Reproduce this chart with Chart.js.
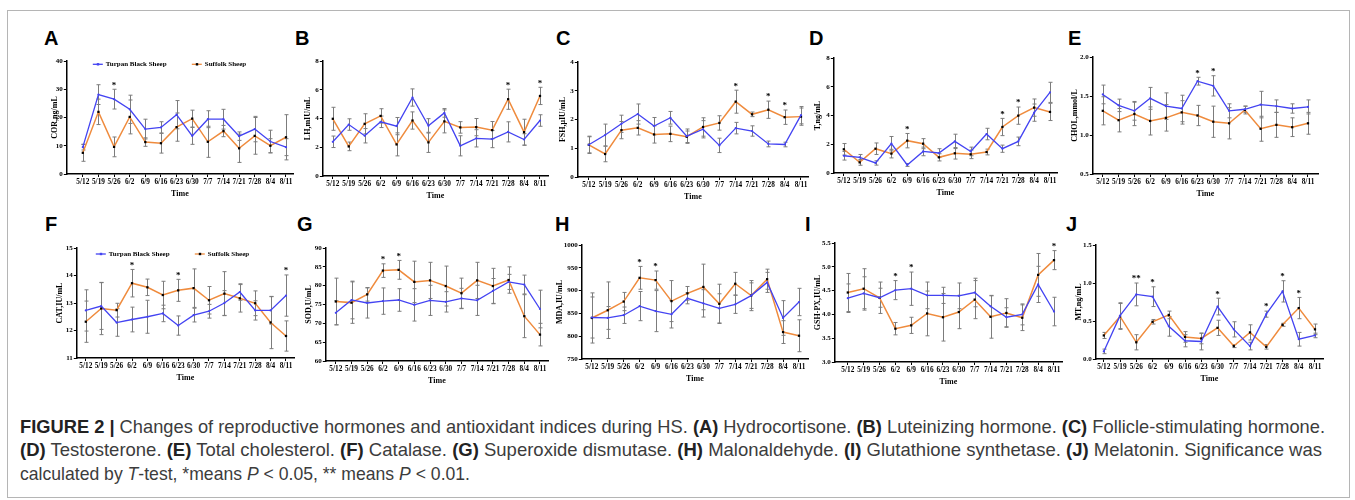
<!DOCTYPE html>
<html>
<head>
<meta charset="utf-8">
<script src="https://cdn.jsdelivr.net/npm/chart.js@4.4.1/dist/chart.umd.min.js"></script>
<style>
  body { margin: 0; background: #fff; width: 1355px; height: 500px; overflow: hidden; position: relative; }
  #frame { position: absolute; left: 7px; top: 10px; width: 1341px; height: 486px; border: 1px solid #b5b5b5; }
  canvas { position: absolute; }
  .letter { position: absolute; font: bold 20px "Liberation Sans", Arial, sans-serif; line-height: 20px; color: #000; }
  .cap { position: absolute; left: 20px; white-space: nowrap; font-family: "Liberation Sans Narrow", "Liberation Sans", Arial, sans-serif;
         font-size: 19px; line-height: 22px; color: #3c3c3c; transform-origin: 0 50%; }
  .cap b { color: #222; }
</style>
</head>
<body>
<div id="frame"></div>

<div class="cap" id="cap1" style="top:416px"><b>FIGURE 2 |</b> Changes of reproductive hormones and antioxidant indices during HS. <b>(A)</b> Hydrocortisone. <b>(B)</b> Luteinizing hormone. <b>(C)</b> Follicle-stimulating hormone.</div>
<div class="cap" id="cap2" style="top:439px"><b>(D)</b> Testosterone. <b>(E)</b> Total cholesterol. <b>(F)</b> Catalase. <b>(G)</b> Superoxide dismutase. <b>(H)</b> Malonaldehyde. <b>(I)</b> Glutathione synthetase. <b>(J)</b> Melatonin. Significance was</div>
<div class="cap" id="cap3" style="top:463px">calculated by <i>T</i>-test, *means <i>P</i> &lt; 0.05, ** means <i>P</i> &lt; 0.01.</div>

<script>
const categories = ['5/12', '5/19', '5/26', '6/2', '6/9', '6/16', '6/23', '6/30', '7/7', '7/14', '7/21', '7/28', '8/4', '8/11'];
const seriesNames = ['Turpan Black Sheep', 'Suffolk Sheep'];

// A - cortisol
const corTurpan = [9.5, 28.1, 26.5, 22.9, 15.9, 16.5, 21, 13.5, 19.4, 19.4, 13.4, 15.9, 11.5, 9.5];
const corTurpanSd = [1, 3.5, 3.5, 5, 3.5, 2, 5, 3, 3, 3.5, 1.5, 4.5, 4, 3];
const corSuffolk = [7.5, 22, 9.6, 20.2, 11.3, 10.9, 16.6, 19.6, 11.4, 15.2, 9.1, 13.5, 10, 13];
const corSuffolkSd = [3, 4.5, 3.5, 6, 1.5, 3.5, 5, 3, 5.5, 2, 5, 6.5, 2.5, 8];
const corSig = ['', '', '*', '', '', '', '', '', '', '', '', '', '', ''];

// B - LH
const lhTurpan = [2.38, 3.58, 2.8, 3.77, 3.47, 5.46, 3.49, 4.39, 2.1, 2.62, 2.57, 3.07, 2.54, 3.86];
const lhTurpanSd = [0.4, 0.4, 0.5, 0.4, 0.6, 0.6, 0.5, 0.3, 0.7, 0.6, 0.6, 0.7, 0.4, 0.4];
const lhSuffolk = [3.98, 2.06, 3.63, 4.18, 2.2, 3.86, 2.34, 3.8, 3.38, 3.4, 3.19, 5.34, 3.05, 5.57];
const lhSuffolkSd = [0.8, 0.3, 0.7, 0.5, 0.8, 0.6, 0.7, 0.8, 0.4, 0.6, 0.6, 0.7, 0.9, 0.6];
const lhSig = ['', '', '', '', '', '', '', '', '', '', '', '*', '', '*'];

// C - FSH
const fshTurpan = [1.12, 1.46, 1.85, 2.19, 1.77, 2.06, 1.42, 1.66, 1.1, 1.7, 1.6, 1.15, 1.13, 2.15];
const fshTurpanSd = [0.3, 0.38, 0.3, 0.35, 0.3, 0.22, 0.25, 0.3, 0.25, 0.2, 0.18, 0.1, 0.08, 0.3];
const fshSuffolk = [1.12, 0.8, 1.63, 1.71, 1.48, 1.5, 1.4, 1.74, 1.88, 2.62, 2.18, 2.34, 2.08, 2.1];
const fshSuffolkSd = [0.28, 0.27, 0.3, 0.25, 0.3, 0.27, 0.2, 0.32, 0.25, 0.4, 0.08, 0.3, 0.25, 0.3];
const fshSig = ['', '', '', '', '', '', '', '', '', '*', '', '*', '*', ''];

// D - testosterone
const tTurpan = [1.2, 1.09, 0.7, 2.04, 0.56, 1.5, 1.39, 2.2, 1.5, 2.71, 1.69, 2.2, 4.2, 5.61];
const tTurpanSd = [0.3, 0.2, 0.15, 0.5, 0.1, 0.3, 0.3, 0.5, 0.3, 0.4, 0.25, 0.3, 0.6, 0.7];
const tSuffolk = [1.65, 0.74, 1.69, 1.35, 2.25, 2.04, 1.09, 1.37, 1.3, 1.46, 3.2, 3.99, 4.55, 4.25];
const tSuffolkSd = [0.4, 0.2, 0.4, 0.3, 0.5, 0.35, 0.25, 0.4, 0.3, 0.2, 0.6, 0.6, 0.6, 0.6];
const tSig = ['', '', '', '', '*', '', '', '', '', '', '*', '*', '', ''];

// E - cholesterol
const cholTurpan = [1.52, 1.38, 1.31, 1.47, 1.37, 1.34, 1.69, 1.63, 1.31, 1.33, 1.39, 1.37, 1.34, 1.36];
const cholTurpanSd = [0.12, 0.08, 0.12, 0.14, 0.17, 0.17, 0.05, 0.13, 0.09, 0.04, 0.17, 0.08, 0.06, 0.09];
const cholSuffolk = [1.31, 1.19, 1.27, 1.18, 1.22, 1.29, 1.25, 1.17, 1.15, 1.32, 1.08, 1.13, 1.1, 1.15];
const cholSuffolkSd = [0.18, 0.15, 0.15, 0.18, 0.17, 0.15, 0.13, 0.2, 0.2, 0.05, 0.16, 0.16, 0.12, 0.14];
const cholSig = ['', '', '', '', '', '', '*', '*', '', '', '', '', '', ''];

// F - catalase
const catTurpan = [12.73, 12.89, 12.29, 12.4, 12.5, 12.62, 12.18, 12.56, 12.7, 13.0, 13.4, 12.73, 12.73, 13.27];
const catTurpanSd = [0.75, 0.85, 0.5, 0.45, 0.6, 0.3, 0.35, 0.25, 0.25, 0.45, 0.3, 0.35, 0.5, 0.75];
const catSuffolk = [12.32, 12.8, 12.74, 13.72, 13.57, 13.29, 13.46, 13.54, 13.1, 13.34, 13.17, 12.99, 12.29, 11.8];
const catSuffolkSd = [0.75, 0.95, 0.25, 0.5, 0.3, 0.5, 0.4, 0.7, 0.5, 0.8, 0.5, 0.45, 0.95, 0.55];
const catSig = ['', '', '', '*', '', '', '*', '', '', '', '', '', '', '*'];

// G - SOD
const sodTurpan = [72.8, 76.2, 75.4, 75.9, 76.2, 74.9, 76.1, 75.7, 76.6, 76.1, 78.6, 81.0, 80.3, 73.8];
const sodTurpanSd = [3.2, 5, 4, 3.5, 3, 4.3, 4, 2.7, 2.7, 4, 3.3, 2, 2.5, 5];
const sodSuffolk = [75.8, 75.5, 77.7, 84.0, 84.2, 81.0, 81.4, 79.9, 78.0, 81.4, 79.9, 81.5, 71.9, 67.0];
const sodSuffolkSd = [6.2, 5.5, 1.8, 1.8, 2.5, 5.5, 4.8, 5.3, 4.0, 4.8, 4.7, 3.5, 5.7, 3];
const sodSig = ['', '', '', '*', '*', '', '', '', '', '', '', '', '', ''];

// H - MDA
const mdaTurpan = [841, 840, 846, 866, 855, 848, 883, 872, 861, 870, 889, 918, 840, 875];
const mdaTurpanSd = [45, 25, 18, 32, 45, 30, 12, 30, 32, 20, 28, 22, 38, 30];
const mdaSuffolk = [840, 857, 876, 928, 923, 877, 894, 908, 871, 915, 889, 925, 809, 801];
const mdaSuffolkSd = [55, 62, 20, 25, 20, 45, 15, 50, 43, 25, 33, 22, 25, 35];
const mdaSig = ['', '', '', '*', '*', '', '', '', '', '', '', '', '', ''];

// I - GSH-PX
const gshTurpan = [4.34, 4.44, 4.35, 4.51, 4.54, 4.4, 4.4, 4.39, 4.46, 4.17, 3.94, 4.0, 4.63, 4.06];
const gshTurpanSd = [0.3, 0.35, 0.2, 0.2, 0.35, 0.28, 0.17, 0.27, 0.3, 0.22, 0.2, 0.22, 0.38, 0.3];
const gshSuffolk = [4.46, 4.54, 4.35, 3.7, 3.77, 4.02, 3.94, 4.05, 4.31, 3.95, 4.03, 3.93, 4.83, 5.14];
const gshSuffolkSd = [0.4, 0.42, 0.33, 0.13, 0.17, 0.47, 0.5, 0.35, 0.4, 0.45, 0.3, 0.27, 0.45, 0.2];
const gshSig = ['', '', '', '*', '*', '', '', '', '', '', '', '', '', '*'];

// J - melatonin
const mtTurpan = [0.1, 0.57, 0.85, 0.82, 0.43, 0.24, 0.23, 0.69, 0.39, 0.17, 0.59, 0.89, 0.26, 0.31];
const mtTurpanSd = [0.03, 0.17, 0.15, 0.13, 0.13, 0.08, 0.11, 0.11, 0.1, 0.05, 0.04, 0.14, 0.09, 0.03];
const mtSuffolk = [0.31, 0.56, 0.22, 0.49, 0.58, 0.29, 0.27, 0.41, 0.17, 0.35, 0.16, 0.45, 0.67, 0.39];
const mtSuffolkSd = [0.04, 0.17, 0.1, 0.03, 0.05, 0.07, 0.07, 0.1, 0.02, 0.1, 0.03, 0.02, 0.14, 0.07];
const mtSig = ['', '', '**', '*', '', '', '', '*', '', '', '*', '*', '*', ''];

const BLUE = '#4343f2';
const ORANGE = '#ef8b3d';
const SERIF = '"Liberation Serif", "Times New Roman", serif';

// box: y-axis x, top px, bottom px, first point x, last point x, axis end x
const panels = [
  { letter: 'A', lx: 44, ly: 28, title: 'COR,ng/mL', min: 0, max: 40, step: 10, dec: 0, tOff: 12,
    t: corTurpan, tSd: corTurpanSd, s: corSuffolk, sSd: corSuffolkSd, sig: corSig,
    box: [67, 61, 174, 83, 286, 293], legend: { x: 26, y: 3.3, second: 125 } },
  { letter: 'B', lx: 295, ly: 28, title: 'LH,mIU/mL', min: 0, max: 8, step: 2, dec: 0, tOff: 15,
    t: lhTurpan, tSd: lhTurpanSd, s: lhSuffolk, sSd: lhSuffolkSd, sig: lhSig,
    box: [323, 61, 176, 333, 540, 548] },
  { letter: 'C', lx: 556, ly: 28, title: 'FSH,μIU/mL', min: 0, max: 4, step: 1, dec: 0, tOff: 15,
    t: fshTurpan, tSd: fshTurpanSd, s: fshSuffolk, sSd: fshSuffolkSd, sig: fshSig,
    box: [578, 62, 177, 589, 801, 808] },
  { letter: 'D', lx: 809, ly: 28, title: 'T,ng/mL', min: 0, max: 8, step: 2, dec: 0, tOff: 16,
    t: tTurpan, tSd: tTurpanSd, s: tSuffolk, sSd: tSuffolkSd, sig: tSig,
    box: [834, 58, 173, 844, 1050, 1057] },
  { letter: 'E', lx: 1068, ly: 28, title: 'CHOL,mmol/L', min: 0.5, max: 2.0, step: 0.5, dec: 1, tOff: 18,
    t: cholTurpan, tSd: cholTurpanSd, s: cholSuffolk, sSd: cholSuffolkSd, sig: cholSig,
    box: [1093, 57, 174, 1103, 1308, 1318] },
  { letter: 'F', lx: 45, ly: 214, title: 'CAT,IU/mL', min: 11, max: 15, step: 1, dec: 0, tOff: 17,
    t: catTurpan, tSd: catTurpanSd, s: catSuffolk, sSd: catSuffolkSd, sig: catSig,
    box: [77, 248, 358, 86, 286, 294], legend: { x: 19, y: 6, second: 118 } },
  { letter: 'G', lx: 297, ly: 214, title: 'SOD,U/mL', min: 60, max: 90, step: 5, dec: 0, tOff: 17,
    t: sodTurpan, tSd: sodTurpanSd, s: sodSuffolk, sSd: sodSuffolkSd, sig: sodSig,
    box: [326, 248, 361, 336, 540, 548] },
  { letter: 'H', lx: 555, ly: 214, title: 'MDA,IU/mL', min: 750, max: 1000, step: 50, dec: 0, tOff: 22,
    t: mdaTurpan, tSd: mdaTurpanSd, s: mdaSuffolk, sSd: mdaSuffolkSd, sig: mdaSig,
    box: [582, 245, 359, 592, 799, 808] },
  { letter: 'I', lx: 805, ly: 214, title: 'GSH-PX,IU/mL', min: 3.0, max: 5.5, step: 0.5, dec: 1, tOff: 17,
    t: gshTurpan, tSd: gshTurpanSd, s: gshSuffolk, sSd: gshSuffolkSd, sig: gshSig,
    box: [835, 243, 362, 848, 1054, 1062] },
  { letter: 'J', lx: 1066, ly: 214, title: 'MT,ng/mL', min: 0, max: 1.5, step: 0.5, dec: 1, tOff: 17,
    t: mtTurpan, tSd: mtTurpanSd, s: mtSuffolk, sSd: mtSuffolkSd, sig: mtSig,
    box: [1096, 245, 359, 1104, 1315, 1323] },
];

const PAD_TOP = 10, PAD_RIGHT = 4, X_H = 25;

function extras(p) {
  return {
    id: 'extras',
    beforeDatasetsDraw(chart) {
      const { ctx } = chart;
      const x = chart.scales.x, y = chart.scales.y;
      ctx.save();
      ctx.strokeStyle = '#7c7c7c';
      ctx.lineWidth = 1;
      [[p.t, p.tSd], [p.s, p.sSd]].forEach(([vals, sds]) => {
        vals.forEach((v, i) => {
          const px = Math.round(x.getPixelForValue(i)) + 0.5;
          const yt = y.getPixelForValue(v + sds[i]);
          const yb = y.getPixelForValue(v - sds[i]);
          ctx.beginPath();
          ctx.moveTo(px, yt); ctx.lineTo(px, yb);
          ctx.moveTo(px - 2, yt); ctx.lineTo(px + 2, yt);
          ctx.moveTo(px - 2, yb); ctx.lineTo(px + 2, yb);
          ctx.stroke();
        });
      });
      ctx.restore();
    },
    afterDatasetsDraw(chart) {
      const { ctx, chartArea } = chart;
      const x = chart.scales.x, y = chart.scales.y;
      ctx.save();
      ctx.fillStyle = '#000';
      ctx.font = 'bold 9px ' + SERIF;
      ctx.textAlign = 'center';
      ctx.textBaseline = 'middle';
      p.sig.forEach((mark, i) => {
        if (!mark) return;
        const top = Math.max(p.t[i] + p.tSd[i], p.s[i] + p.sSd[i]);
        ctx.fillText(mark, x.getPixelForValue(i), y.getPixelForValue(top) - 4);
      });
      if (p.legend) {
        const ly = chartArea.top + p.legend.y;
        const items = [
          { x: chartArea.left + p.legend.x, color: BLUE, dot: BLUE, text: seriesNames[0] },
          { x: chartArea.left + p.legend.second, color: ORANGE, dot: '#000', text: seriesNames[1] },
        ];
        items.forEach(it => {
          ctx.strokeStyle = it.color;
          ctx.lineWidth = 1.3;
          ctx.beginPath();
          ctx.moveTo(it.x, ly); ctx.lineTo(it.x + 10, ly);
          ctx.stroke();
          ctx.fillStyle = it.dot;
          ctx.fillRect(it.x + 4, ly - 1.2, 2.4, 2.4);
          ctx.fillStyle = '#000';
          ctx.font = 'bold 7px ' + SERIF;
          ctx.textAlign = 'left';
          ctx.fillText(it.text, it.x + 13, ly);
        });
      }
      ctx.restore();
    }
  };
}

panels.forEach(p => {
  const [axisX, top, bottom, xFirst, xLast, xEnd] = p.box;
  const step = (xLast - xFirst) / 13;
  const xMin = -(xFirst - axisX) / step;
  const xMax = 13 + (xEnd - xLast) / step;
  const yW = p.tOff + 4.8;

  const letter = document.createElement('div');
  letter.className = 'letter';
  letter.textContent = p.letter;
  letter.style.left = p.lx + 'px';
  letter.style.top = p.ly + 'px';
  document.body.appendChild(letter);

  const canvas = document.createElement('canvas');
  const w = Math.round(yW + (xEnd - axisX) + PAD_RIGHT);
  const h = Math.round(PAD_TOP + (bottom - top) + X_H);
  canvas.width = w; canvas.height = h;
  canvas.style.left = (axisX - yW) + 'px';
  canvas.style.top = (top - PAD_TOP) + 'px';
  canvas.style.width = w + 'px';
  canvas.style.height = h + 'px';
  document.body.appendChild(canvas);

  new Chart(canvas, {
    type: 'line',
    data: {
      datasets: [
        {
          label: seriesNames[0],
          data: p.t.map((v, i) => ({ x: i, y: v })),
          borderColor: BLUE, backgroundColor: BLUE, borderWidth: 1.3,
          pointStyle: 'circle', pointRadius: 1.1, pointBorderWidth: 0,
          tension: 0, clip: false,
        },
        {
          label: seriesNames[1],
          data: p.s.map((v, i) => ({ x: i, y: v })),
          borderColor: ORANGE, backgroundColor: '#000', borderWidth: 1.5,
          pointStyle: 'rect', pointRadius: 1.6, pointBorderWidth: 0,
          tension: 0, clip: false,
        },
      ],
    },
    options: {
      responsive: false,
      animation: false,
      devicePixelRatio: 1,
      events: [],
      layout: { padding: { top: PAD_TOP, right: PAD_RIGHT, left: 0, bottom: 0 } },
      plugins: { legend: { display: false }, tooltip: { enabled: false } },
      scales: {
        x: {
          type: 'linear', min: xMin, max: xMax,
          afterFit: s => { s.height = X_H; },
          afterBuildTicks: s => {
            s.ticks = categories.map((c, i) => ({ value: i }));
          },
          ticks: {
            autoSkip: false, maxRotation: 0, minRotation: 0, padding: 1,
            color: '#000', font: { family: SERIF, weight: 'bold', size: 7.3 },
            callback: v => categories[v] ?? '',
          },
          grid: { drawOnChartArea: false, drawTicks: true, tickLength: 3, color: '#000', lineWidth: 1 },
          border: { display: true, color: '#000', width: 1.5 },
          title: { display: true, text: 'Time', color: '#000', padding: 0,
                   font: { family: SERIF, weight: 'bold', size: 8 } },
        },
        y: {
          min: p.min, max: p.max,
          afterFit: s => { s.width = yW; },
          ticks: {
            stepSize: p.step, padding: 1, color: '#000',
            font: { family: SERIF, weight: 'bold', size: 7 },
            callback: v => Number(v).toFixed(p.dec),
          },
          grid: { drawOnChartArea: false, drawTicks: true, tickLength: 3, color: '#000', lineWidth: 1 },
          border: { display: true, color: '#000', width: 1.5 },
          title: { display: true, text: p.title, color: '#000', padding: 0,
                   font: { family: SERIF, weight: 'bold', size: 8 } },
        },
      },
    },
    plugins: [extras(p)],
  });
});

// squeeze the caption lines to the condensed, justified width of the printed figure
function fitLine(id, target) {
  const el = document.getElementById(id);
  el.style.transform = 'scaleX(' + (target / el.getBoundingClientRect().width) + ')';
}
fitLine('cap1', 1305);
fitLine('cap2', 1302);
fitLine('cap3', 450);
</script>
</body>
</html>
